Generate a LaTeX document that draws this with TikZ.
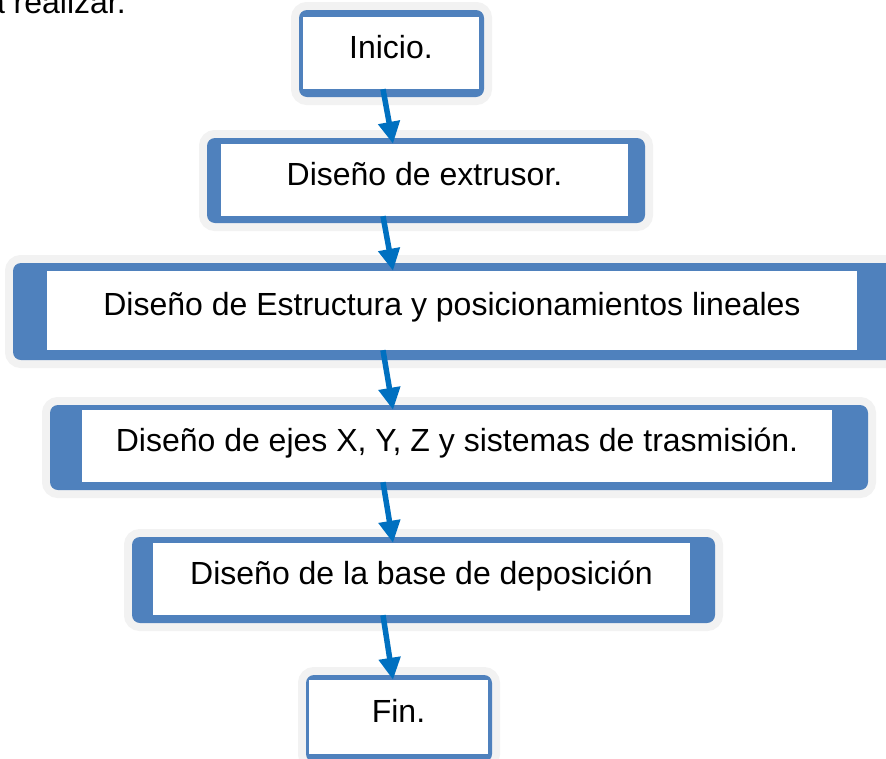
\documentclass[tikz,border=0pt]{standalone}
\usepackage{fontspec}
\setmainfont{Liberation Sans}
\usetikzlibrary{arrows.meta}
\definecolor{frameblue}{HTML}{4F81BD}
\definecolor{glowgray}{HTML}{F2F2F2}
\definecolor{arrowblue}{HTML}{0070C0}

\begin{document}
\begin{tikzpicture}[x=1pt, y=-1pt, every node/.style={font=\fontsize{32}{38}\selectfont}]
\tikzset{
  frame/.style={fill=frameblue, rounded corners=8pt, inner sep=0pt, preaction={draw=glowgray, line width=16pt}},
  box/.style={fill=white, inner sep=0pt, text height=23pt, text depth=13pt},
  arrow/.style={-{Triangle[length=22pt, width=21pt]}, line width=5.5pt, draw=arrowblue}
}
\useasboundingbox (0,0) rectangle (886,758);

% Nodes
\node[anchor=base east, inner sep=0pt] (prev) at (126,13) {a realizar.};

\node[frame, minimum width=185pt, minimum height=87pt] (iniF) at (391.5,53.5) {};
\node[box, minimum width=176pt, minimum height=72pt] (ini) at (391,53) {Inicio.};

\node[frame, minimum width=438pt, minimum height=85pt] (extF) at (426,180.5) {};
\node[box, minimum width=407pt, minimum height=72pt] (ext) at (424.5,180) {Diseño de extrusor.};

\node[frame, minimum width=882pt, minimum height=97pt] (estF) at (454,311.5) {};
\node[box, minimum width=810pt, minimum height=79pt] (est) at (452,310.5) {Diseño de Estructura y posicionamientos lineales};

\node[frame, minimum width=818pt, minimum height=85pt] (ejeF) at (459,447.5) {};
\node[box, minimum width=750pt, minimum height=72pt] (eje) at (457,446) {Diseño de ejes X, Y, Z y sistemas de trasmisión.};

\node[frame, minimum width=583pt, minimum height=86pt] (basF) at (423.5,580) {};
\node[box, minimum width=537pt, minimum height=72pt] (bas) at (421.5,579) {Diseño de la base de deposición};

\node[frame, minimum width=186pt, minimum height=87pt] (finF) at (399,718.5) {};
\node[box, minimum width=179pt, minimum height=74pt] (fin) at (398.5,717) {Fin.};

% Arrows
\coordinate (tail) at (383,0);
\coordinate (head) at (393,0);
\draw[arrow] (ini.south -| tail) -- (ext.north -| head);
\draw[arrow] (ext.south -| tail) -- (est.north -| head);
\draw[arrow] (est.south -| tail) -- (eje.north -| head);
\draw[arrow] (eje.south -| tail) -- (bas.north -| head);
\draw[arrow] (bas.south -| tail) -- (fin.north -| head);
\end{tikzpicture}
\end{document}
